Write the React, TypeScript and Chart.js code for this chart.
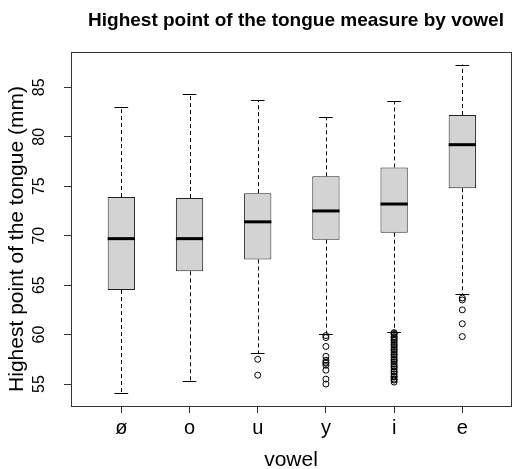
import React, { useEffect, useRef } from "react";
import { Chart, registerables } from "chart.js";

Chart.register(...registerables);

// ---- data ----
const vowels = ["ø", "o", "u", "y", "i", "e"];
const positions = [1, 2, 3, 4, 5, 6];
const whiskerLow = [54.1, 55.3, 58.1, 60.1, 60.3, 64.1];
const q1 = [64.5, 66.4, 67.6, 69.6, 70.3, 74.8];
const medians = [69.7, 69.7, 71.4, 72.5, 73.2, 79.2];
const q3 = [73.9, 73.8, 74.3, 76.0, 76.9, 82.2];
const whiskerHigh = [83.0, 84.3, 83.7, 82.0, 83.6, 87.3];
const outliersU = [57.5, 55.9];
const outliersY = [59.9, 59.7, 58.8, 57.8, 57.4, 57.2, 57.1, 56.9, 56.4, 55.5, 55.0];
const outliersI = [
  60.2, 60.1, 60.0, 59.8, 59.7, 59.5, 59.4, 59.2, 59.0, 58.9, 58.7, 58.5, 58.4,
  58.2, 58.0, 57.9, 57.7, 57.5, 57.4, 57.2, 57.0, 56.8, 56.7, 56.5, 56.3, 56.2,
  56.0, 55.8, 55.7, 55.5, 55.4, 55.2,
];
const outliersE = [63.7, 63.5, 62.5, 61.1, 59.8];
const yTicks = [55, 60, 65, 70, 75, 80, 85];

const title = "Highest point of the tongue measure by vowel";
const xTitle = "vowel";
const yTitle = "Highest point of the tongue (mm)";

const FONT = "'Liberation Sans', Arial, sans-serif";

export default function App() {
  const ref = useRef<HTMLCanvasElement | null>(null);

  useEffect(() => {
    if (!ref.current) return;

    const outlierPoints: { x: number; y: number }[] = [];
    const groups: [number, number[]][] = [
      [3, outliersU],
      [4, outliersY],
      [5, outliersI],
      [6, outliersE],
    ];
    groups.forEach(([p, arr]) => arr.forEach((v) => outlierPoints.push({ x: p, y: v })));

    const boxPlugin = {
      id: "boxExtras",
      beforeDatasetsDraw(chart: any) {
        const { ctx } = chart;
        const xs = chart.scales.x;
        const ys = chart.scales.y;
        ctx.save();
        ctx.strokeStyle = "#000";
        ctx.lineWidth = 1;
        positions.forEach((p, i) => {
          const x = Math.round(xs.getPixelForValue(p)) + 0.5;
          // dashed whiskers
          ctx.setLineDash([4, 3]);
          ctx.beginPath();
          ctx.moveTo(x, ys.getPixelForValue(q3[i]));
          ctx.lineTo(x, ys.getPixelForValue(whiskerHigh[i]));
          ctx.moveTo(x, ys.getPixelForValue(q1[i]));
          ctx.lineTo(x, ys.getPixelForValue(whiskerLow[i]));
          ctx.stroke();
          // caps
          ctx.setLineDash([]);
          const cl = xs.getPixelForValue(p - 0.1);
          const cr = xs.getPixelForValue(p + 0.1);
          const yh = Math.round(ys.getPixelForValue(whiskerHigh[i])) + 0.5;
          const yl = Math.round(ys.getPixelForValue(whiskerLow[i])) + 0.5;
          ctx.beginPath();
          ctx.moveTo(cl, yh);
          ctx.lineTo(cr, yh);
          ctx.moveTo(cl, yl);
          ctx.lineTo(cr, yl);
          ctx.stroke();
        });
        ctx.restore();
      },
      afterDatasetsDraw(chart: any) {
        const { ctx, chartArea } = chart;
        const xs = chart.scales.x;
        const ys = chart.scales.y;
        ctx.save();
        // medians
        ctx.strokeStyle = "#000";
        ctx.lineWidth = 3;
        positions.forEach((p, i) => {
          const l = xs.getPixelForValue(p - 0.2);
          const r = xs.getPixelForValue(p + 0.2);
          const y = ys.getPixelForValue(medians[i]);
          ctx.beginPath();
          ctx.moveTo(l, y);
          ctx.lineTo(r, y);
          ctx.stroke();
        });
        // frame
        ctx.lineWidth = 1;
        ctx.strokeStyle = "#333";
        ctx.strokeRect(
          Math.round(chartArea.left) + 0.5,
          Math.round(chartArea.top) + 0.5,
          Math.round(chartArea.right - chartArea.left),
          Math.round(chartArea.bottom - chartArea.top)
        );
        ctx.restore();
      },
      afterDraw(chart: any) {
        const { ctx, chartArea } = chart;
        const ys = chart.scales.y;
        ctx.save();
        ctx.fillStyle = "#000";
        // title
        ctx.font = `bold 19px ${FONT}`;
        ctx.textAlign = "center";
        ctx.textBaseline = "alphabetic";
        ctx.fillText(title, (chartArea.left + chartArea.right) / 2 + 5, 26);
        // x title
        ctx.font = `21px ${FONT}`;
        ctx.fillText(xTitle, (chartArea.left + chartArea.right) / 2, 466);
        // y title
        ctx.save();
        ctx.translate(23, 239);
        ctx.rotate(-Math.PI / 2);
        ctx.fillText(yTitle, 0, 0);
        ctx.restore();
        // y tick labels (rotated)
        ctx.font = `16px ${FONT}`;
        yTicks.forEach((t) => {
          const y = ys.getPixelForValue(t);
          ctx.save();
          ctx.translate(44, y);
          ctx.rotate(-Math.PI / 2);
          ctx.fillText(String(t), 0, 0);
          ctx.restore();
        });
        ctx.restore();
      },
    };

    const chart = new Chart(ref.current, {
      type: "bar",
      data: {
        datasets: [
          {
            type: "bar",
            data: positions.map((p, i) => ({ x: p, y: [q1[i], q3[i]] })) as any,
            backgroundColor: "#D3D3D3",
            borderColor: "#222",
            borderWidth: 1,
            borderSkipped: false,
            barPercentage: 0.4,
            categoryPercentage: 1,
            order: 2,
          } as any,
          {
            type: "scatter",
            data: outlierPoints,
            pointRadius: 3,
            pointStyle: "circle",
            borderColor: "#000",
            borderWidth: 1,
            backgroundColor: "rgba(0,0,0,0)",
            order: 1,
          } as any,
        ],
      },
      options: {
        animation: false,
        responsive: false,
        devicePixelRatio: 1,
        layout: { padding: { top: 52, right: 2, left: 0, bottom: 0 } },
        plugins: {
          legend: { display: false },
          tooltip: { enabled: false },
          title: { display: false },
        },
        scales: {
          x: {
            type: "linear",
            min: 0.262,
            max: 6.714,
            offset: false,
            afterBuildTicks: (scale: any) => {
              scale.ticks = positions.map((v) => ({ value: v }));
            },
            afterFit: (scale: any) => {
              scale.height = 63;
            },
            ticks: {
              autoSkip: false,
              maxRotation: 0,
              minRotation: 0,
              padding: 3,
              color: "#000",
              font: { family: FONT, size: 20 },
              callback: (v: any) => {
                const idx = positions.indexOf(Number(v));
                return idx >= 0 ? vowels[idx] : "";
              },
            },
            grid: {
              display: true,
              offset: false,
              drawOnChartArea: false,
              drawTicks: true,
              tickLength: 7,
              color: "#333",
            },
            border: { display: false },
          },
          y: {
            type: "linear",
            min: 52.78,
            max: 88.57,
            afterBuildTicks: (scale: any) => {
              scale.ticks = yTicks.map((v) => ({ value: v }));
            },
            afterFit: (scale: any) => {
              scale.width = 71;
            },
            ticks: { display: false },
            grid: {
              display: true,
              offset: false,
              drawOnChartArea: false,
              drawTicks: true,
              tickLength: 7,
              color: "#333",
            },
            border: { display: false },
          },
        },
      } as any,
      plugins: [boxPlugin],
    });

    return () => chart.destroy();
  }, []);

  return (
    <div style={{ position: "fixed", left: 0, top: 0, width: 516, height: 469, background: "#fff" }}>
      <canvas ref={ref} width={516} height={469} style={{ width: 516, height: 469, display: "block" }} />
    </div>
  );
}
